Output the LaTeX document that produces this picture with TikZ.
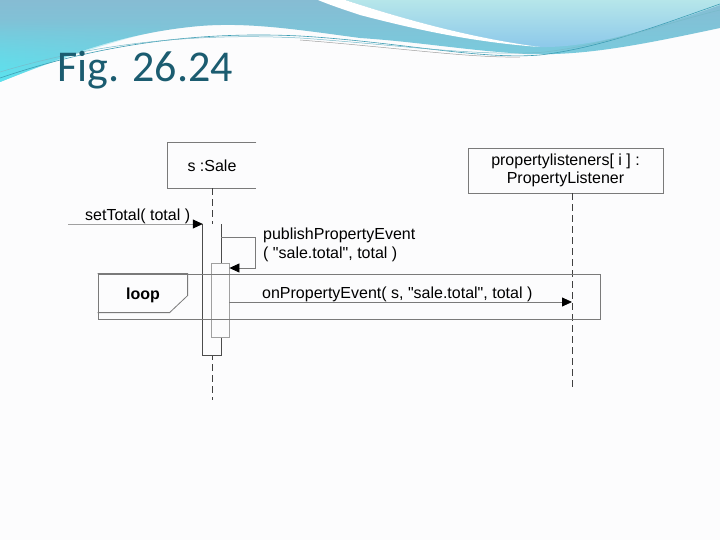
\documentclass[tikz,border=0pt]{standalone}
\usepackage{fontspec}
\setmainfont{Liberation Sans}[Ligatures=TeXOff]
\newfontfamily\titlefont{Carlito}
\usetikzlibrary{arrows.meta,fadings}
\definecolor{bandtop}{HTML}{86BCD3}
\definecolor{bandbot}{HTML}{72D2E2}
\definecolor{cyanish}{HTML}{5CE2EE}
\definecolor{lighttop}{HTML}{B6E6EA}
\definecolor{lightbot}{HTML}{8CC8EA}
\definecolor{swirl}{HTML}{3E9EB4}
\definecolor{titlecol}{HTML}{1B5C70}
\definecolor{linegray}{HTML}{7A7A7A}
\definecolor{lightgray}{HTML}{A0A0A0}
\definecolor{bggray}{HTML}{FCFCFD}
\tikzset{
  lbl/.style={inner sep=0, font=\fontsize{16}{19}\selectfont},
  objbox/.style={draw=linegray, line width=0.8pt, inner sep=0, font=\fontsize{16}{18}\selectfont},
  lifeline/.style={draw=black!75, line width=1pt, dash pattern=on 7pt off 4pt},
  barline/.style={draw=black!70, line width=0.8pt},
  msgline/.style={draw=linegray, line width=0.8pt, -{Triangle[length=10pt,width=9pt,color=black]}},
}
\begin{document}
\begin{tikzpicture}[x=1pt,y=-1pt]
\useasboundingbox (0,0) rectangle (720,540);
\fill[bggray] (0,0) rectangle (720,540);
% header decoration
\shade[top color=bandtop, bottom color=bandbot] (0,0) -- (720,0) -- (720,28)
  .. controls (640,45) and (585,56) .. (527,54)
  .. controls (470,51) and (420,42) .. (360,38)
  .. controls (300,30) and (250,22) .. (200,26)
  .. controls (120,33) and (60,58) .. (0,82) -- cycle;
\shade[left color=cyanish, right color=bandbot, path fading=north] (0,20) -- (0,82) .. controls (50,62) and (100,45) .. (160,30) -- (160,20) -- cycle;
\shade[top color=lighttop, bottom color=lightbot] (345,0) -- (720,0) -- (720,5)
  .. controls (650,30) and (590,48) .. (540,47)
  .. controls (470,38) and (400,18) .. (345,0) -- cycle;
\fill[white] (318,0) -- (345,0) .. controls (400,18) and (470,38) .. (540,47)
  .. controls (470,42) and (410,28) .. (360,15) .. controls (345,10) and (330,5) .. (318,0) -- cycle;
\draw[swirl, line width=0.6pt] (0,78) .. controls (100,44) and (200,31) .. (300,36)
  .. controls (400,42) and (480,60) .. (540,55) .. controls (600,48) and (660,25) .. (720,4);
\draw[swirl!70, line width=0.5pt] (0,72) .. controls (100,42) and (200,33) .. (300,38)
  .. controls (400,45) and (480,57) .. (545,52) .. controls (610,44) and (670,22) .. (720,10);
\draw[lightgray, line width=0.5pt] (300,40) .. controls (400,48) and (470,58) .. (520,57);
\node[anchor=base west, inner sep=0, text=titlecol, font=\titlefont\fontsize{44}{48}\selectfont] (title) at (57,82) {Fig. 26.24};
% objects
\node[objbox, draw=none, minimum width=88, minimum height=45] (sale) at (212,165.5) {s :Sale};
\draw[draw=linegray, line width=0.8pt] (sale.north east) -- (sale.north west) -- (sale.south west) -- (sale.south east);
\node[objbox, minimum width=195, minimum height=45, align=center] (pl) at (565.5,170.5) {propertylisteners[ i ] :\\PropertyListener};
% lifelines
\coordinate (saleEnd) at (212,400);
\coordinate (plEnd) at (572,388);
\draw[lifeline] (sale.south) -- (saleEnd);
\draw[lifeline] (pl.south -| plEnd) -- (plEnd);
% activation bars
\node[fill=bggray, inner sep=0, minimum width=18, minimum height=131] (act) at (212,289.5) {};
\draw[barline] (act.north west) -- (act.south west) -- (act.south east) -- (act.north east);
\node[draw=lightgray, line width=0.8pt, fill=bggray, inner sep=0, minimum width=18, minimum height=74] (act2) at (220,300) {};
% loop frame
\node[draw=linegray, line width=0.8pt, inner sep=0, minimum width=502, minimum height=45] (loopframe) at (349,296.5) {};
\draw[draw=linegray, line width=0.8pt] (loopframe.north west) -- ++(90,0) -- ++(0,22) -- ++(-18,17) -- ++(-72,0);
\node[lbl, font=\fontsize{16}{18}\selectfont\bfseries] (looplbl) at (143,295) {loop};
% messages
\coordinate (stStart) at (68,224);
\draw[msgline, draw=lightgray] (stStart) -- (stStart -| act.west);
\node[lbl, anchor=base west] (stlbl) at (85,221) {setTotal( total )};
\coordinate (sc1) at (255,237);
\coordinate (sc2) at (255,268);
\draw[msgline] (act.east |- sc1) -- (sc1) -- (sc2) -- (sc2 -| act2.east);
\node[lbl, anchor=west, align=left] (publbl) at (263,245) {publishPropertyEvent\\( "sale.total", total )};
\coordinate (opy) at (0,302);
\draw[msgline] (act2.east |- opy) -- (plEnd |- opy);
\node[lbl, anchor=base west] (oplbl) at (262,298) {onPropertyEvent( s, "sale.total", total )};
\end{tikzpicture}
\end{document}
